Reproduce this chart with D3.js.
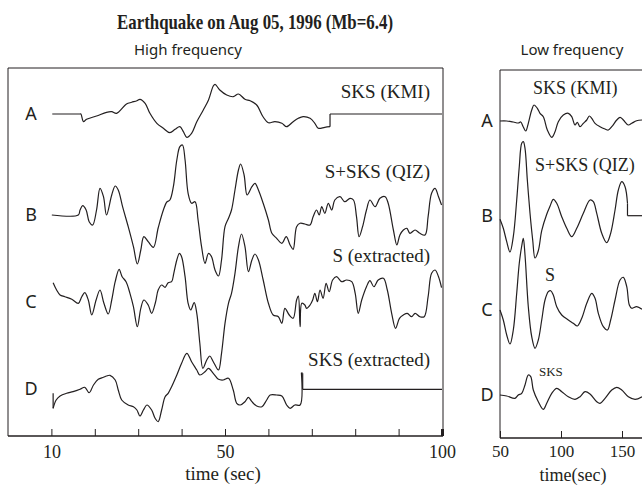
<!DOCTYPE html>
<html>
<head>
<meta charset="utf-8">
<title>Earthquake on Aug 05, 1996</title>
<script src="https://d3js.org/d3.v7.min.js"></script>
<style>
  body { margin: 0; background: #fff; }
  .serif { font-family: "Liberation Serif", "Times New Roman", serif; fill: #231f20; }
  .sans { font-family: "Noto Sans", "Open Sans", sans-serif; fill: #231f20; }
  .trace { fill: none; stroke: #231f20; stroke-width: 1.2; stroke-linejoin: round; }
  .frame { stroke: #231f20; stroke-width: 1; fill: none; }
</style>
</head>
<body>
<svg width="642" height="486"></svg>
<script>
// [time (s), amplitude] pairs
const hiA = [[10.2,0],[16.6,0],[16.8,0],[17.4,-7.7],[18.1,-5.3],[20.4,-2],[22.7,1.7],[23.9,2.3],[25.0,0.7],[27.3,10],[28.5,11.7],[29.7,13.3],[30.4,14.7],[31.6,10.7],[32.7,0.7],[34.3,-9.3],[35.8,-14.3],[37.3,-18.7],[38.5,-15.3],[39.6,-12.7],[40.4,-17.7],[41.2,-23.3],[42.3,-19.3],[43.5,-7.7],[45.0,4],[46.2,14],[47.3,28],[47.7,29.7],[48.8,24],[50.4,19],[51.9,17.3],[53.1,20],[54.6,14.7],[55.8,13.3],[57.3,9],[58.8,-3],[60.0,-8.7],[61.5,-7.7],[63.1,-9.3],[64.2,-12.7],[65.7,-7.7],[66.9,-4.3],[68.0,-2.7],[69.6,-4.3],[70.7,-9.3],[71.5,-14.3],[73.0,-13.3],[74.2,-12.7],[74.2,0],[100,0]];
const hiB = [[10.1,0],[16.2,0],[16.6,5],[17.2,9.3],[18.0,5],[18.7,-6.7],[19.5,-10],[20.4,5],[21.2,26.7],[22.0,18.3],[22.7,0],[23.9,20],[24.7,29],[25.4,25],[26.4,8.3],[27.7,-11.7],[28.9,-31.7],[29.8,-49],[30.6,-35],[31.3,-21.7],[32.3,-26.7],[33.5,-32.3],[34.6,-13],[35.8,5],[36.6,13],[37.3,15],[38.1,28.3],[38.9,55],[39.6,68.3],[40.2,70],[40.8,55],[41.5,21.7],[42.3,11.7],[43.1,13.3],[43.8,-5],[44.6,-31.7],[45.4,-48.3],[46.2,-38.3],[46.9,-41.7],[47.7,-55],[48.5,-61],[49.2,-45],[50.0,-11.7],[50.8,-3.3],[51.5,5],[52.3,25],[53.1,45],[53.6,51],[54.4,40],[55.1,20],[56.2,28.3],[56.9,31.7],[57.7,25],[58.8,11.7],[60.0,-5],[60.8,-18.3],[61.9,-23.3],[63.1,-28.3],[64.1,-21.7],[65.0,-30],[65.7,-34.3],[66.5,-11.7],[67.3,-8.3],[68.4,-9],[69.6,-10],[70.3,-1.7],[71.1,5],[71.7,0],[72.3,8.3],[73.0,1.7],[73.8,11.7],[74.6,5],[75.3,15],[76.5,18.3],[77.6,13.3],[78.8,16.7],[79.6,15],[80.3,-1.7],[80.9,-21.7],[81.7,-11.7],[82.6,5],[83.4,15],[84.6,8.3],[85.7,16.7],[86.9,18.3],[87.6,11.7],[88.8,-15],[89.6,-30],[90.3,-20],[91.1,-15],[91.9,-13.3],[92.6,-18.3],[93.8,-15],[94.9,-18.3],[96.1,-20],[96.8,-1.7],[97.6,21.7],[98.4,26.7],[99.2,18.3],[99.9,10]];
const hiC = [[10.4,19.3],[11.2,12],[12.0,7],[13.1,5.3],[14.7,2.7],[16.2,-1.3],[17.0,5.3],[17.7,9.3],[18.5,2],[19.3,-13],[20.3,2],[21.2,12],[22.1,-1.3],[23.1,-12],[23.9,2],[24.7,20.3],[25.6,32.7],[26.3,25.3],[27.2,20.3],[28.1,8.7],[28.9,-4.7],[29.8,-24.7],[30.6,-6.3],[31.3,2],[32.3,-3],[33.1,-11.3],[34.0,0],[34.6,12],[35.4,17],[36.2,14.7],[36.9,19.3],[37.7,20.3],[38.2,28.7],[38.9,42],[39.5,48.7],[40.0,45.3],[40.8,25.3],[41.5,-1.3],[42.1,-8],[42.9,-0.7],[43.5,-11.3],[44.2,-41.3],[44.9,-66.3],[45.8,-58],[46.5,-54],[47.3,-59.7],[48.5,-68],[49.2,-51.3],[50.0,-21.3],[50.8,-1.3],[51.5,8.7],[52.3,28.7],[53.1,55.3],[53.8,68],[54.6,55.3],[55.4,30.3],[56.2,42],[56.9,48],[57.7,42],[58.8,22],[60.0,-1.3],[61.1,-13],[62.3,-14.7],[63.1,-21.3],[63.8,-6.3],[64.8,-13],[65.7,-16.3],[66.5,2],[66.9,6],[67.3,-24.7],[67.7,-1.3],[68.4,-3],[68.8,-6.3],[69.6,-3],[70.2,2],[70.7,8.7],[71.3,0.3],[71.9,12],[72.6,3.7],[73.3,18.7],[74.0,10.3],[74.8,22],[75.7,25.3],[76.9,20.3],[78.0,22],[79.2,20.3],[80.0,8.7],[80.7,-11.3],[81.5,2],[82.6,15.3],[83.4,21.3],[84.3,15.3],[85.3,22],[86.5,23.7],[87.4,12],[88.4,-11.3],[89.3,-26.3],[90.2,-16.3],[91.1,-13],[92.0,-11.3],[93.0,-14.7],[93.8,-11.3],[94.9,-14.7],[95.9,-14.7],[96.8,5.3],[97.6,28.7],[98.4,32],[99.2,25.3],[99.9,14.3]];
const hiD = [[10.4,-4.3],[10.4,-19.3],[11.1,-11],[12.0,-7],[13.5,-4.3],[15.0,-2.7],[16.6,-0.3],[17.7,1.7],[18.7,-3.7],[19.7,4],[20.8,9.7],[22.0,11.7],[22.7,13],[23.5,13.7],[24.7,9],[25.4,-1],[26.2,-11],[27.7,-16],[28.9,-17.7],[29.7,-21],[30.4,-27],[31.2,-21],[32.0,-16],[33.1,-21],[33.9,-29.3],[34.6,-32.7],[35.4,-21],[36.2,-7.7],[36.9,-4.3],[37.7,2.3],[38.9,14],[40.0,25.7],[41.2,35.7],[42.3,27.3],[43.5,19],[44.2,14],[45.4,17.3],[46.2,20.7],[47.3,15.7],[48.5,9.7],[49.6,9],[50.8,10.7],[51.9,-1],[52.7,-14.3],[53.5,-16],[54.6,-12.7],[55.4,-8.3],[56.2,-12.7],[57.3,-17],[58.5,-17.7],[59.6,-11],[60.4,-6],[61.9,-6],[63.1,-7],[64.2,-16],[65.0,-19.3],[66.1,-16],[67.3,-16],[67.6,16.3],[67.6,16.3],[67.9,15.7],[67.9,-0.3],[100,-0.3]];

const loA = [[50,0],[55.5,0],[60.9,-1],[65.0,-2],[67.0,-1],[69.1,-6],[71.1,-10],[73.2,-2.3],[76.0,11],[77.9,16],[80.6,12.7],[82.8,7.7],[85.5,4.3],[88.8,-9],[92.4,-16.3],[95.1,-10.7],[97.8,-0.7],[101.9,6],[106.0,7.7],[108.8,4.3],[111.5,-4],[113.4,-1.3],[115.6,-5.7],[118.3,-2.3],[121.1,1],[123.2,5],[125.2,2.7],[127.9,-2.3],[132.0,-5.7],[136.1,-8],[138.8,-9],[141.6,-5.7],[145.7,1],[148.4,3.7],[151.1,1],[155.2,-4],[158.0,-2.3],[162.0,0.3],[166.4,1]];
const loB = [[50,-3.3],[52.7,-12.3],[55.5,-25.7],[58.2,-36],[60.9,-20.7],[63.7,16],[65.8,49.3],[67.8,72.7],[69.1,74.3],[70.5,67.7],[72.4,36],[74.6,2.7],[76.8,-24],[78.7,-42],[81.4,-34.7],[84.2,-14.7],[88.3,1.7],[91.0,9.7],[93.7,16.7],[96.5,12.7],[100.6,-0.7],[104.7,-12.3],[108.8,-20.7],[112.9,-12.3],[118.3,2.7],[123.8,16],[126.5,14.3],[129.3,2.7],[133.4,-17.3],[137.5,-26.7],[140.7,-17.3],[144.3,6],[147.0,26],[149.8,34.3],[152.5,29.3],[154.5,12.7],[154.5,0.3],[166.4,0.3]];
const loC = [[50,0],[52.7,-10],[55.5,-25],[58.2,-34],[60.9,-20],[63.7,16.7],[65.8,46.7],[67.8,64],[69.1,71.7],[70.5,55],[73.2,3.3],[76.0,-26.7],[78.7,-38.3],[81.4,-30],[84.2,-10],[86.9,10],[89.6,18.3],[91.6,19.3],[93.7,15],[96.5,3.3],[100.6,-5],[106.0,-10],[110.1,-13.3],[113.4,-16],[117.0,-8.3],[121.1,6.7],[125.2,16.7],[127.9,11.7],[130.6,-3.3],[134.7,-16.7],[138.0,-20],[140.7,-10],[144.3,10],[148.4,30],[151.1,32.7],[153.9,23.3],[156.0,5],[158.0,1.7],[162.0,3.3],[166.4,0.7]];
const loD = [[50,0],[55.5,-1],[62.3,-3.3],[65.0,0],[67.8,1.7],[70.5,10],[73.2,20],[75.2,18.3],[77.3,5],[81.4,-6.7],[85.5,-14.3],[88.3,-8.3],[92.4,1.7],[96.5,6.7],[100.6,3.3],[106.0,-1.7],[111.5,-4.3],[115.6,-1.7],[119.7,3.3],[123.8,1],[129.3,-6.7],[132.0,-8.3],[136.1,-3.3],[141.6,5],[145.7,7.7],[149.8,5],[155.2,-1.7],[160.7,-4.3],[166.4,-1.7]];

const traceLetters = ["A", "B", "C", "D"];
const hiNames = ["SKS (KMI)", "S+SKS (QIZ)", "S (extracted)", "SKS (extracted)"];
const loNames = ["SKS (KMI)", "S+SKS (QIZ)", "S", "SKS"];
const hiTicks = [10, 20, 30, 40, 50, 60, 70, 80, 90, 100];
const hiTickLabels = [10, 50, 100];
const loTicks = [50, 100, 150];

const svg = d3.select("svg");

svg.append("text").attr("class", "serif")
   .attr("x", 255).attr("y", 29)
   .attr("text-anchor", "middle")
   .attr("textLength", 276).attr("lengthAdjust", "spacingAndGlyphs")
   .style("font-size", "22px").style("font-weight", "bold")
   .text("Earthquake on Aug 05, 1996 (Mb=6.4)");

// break a trace where time repeats (vertical steps), so the smoothing
// doesn't bulge around them
function pieces(s) {
    const out = [];
    let cur = [s[0]];
    for (let i = 1; i < s.length; i++) {
        if (s[i][0] === s[i - 1][0]) {
            out.push(cur);
            out.push([s[i - 1], s[i]]);
            cur = [s[i]];
        } else {
            cur.push(s[i]);
        }
    }
    out.push(cur);
    return out.filter(p => p.length > 1);
}

function panel(cfg) {
    const g = svg.append("g");
    const x = d3.scaleLinear().domain(cfg.domain).range(cfg.range);

    g.append("text").attr("class", "sans")
     .attr("x", cfg.titleX).attr("y", 55)
     .attr("text-anchor", "middle").style("font-size", "15px")
     .text(cfg.title);

    const x0 = cfg.range[0], x1 = cfg.frameRight;
    g.append("path").attr("class", "frame")
     .attr("d", cfg.closed
        ? `M${x0},${cfg.bottom}V${cfg.top}H${x1}V${cfg.bottom}`
        : `M${x0},${cfg.bottom}V${cfg.top}H${x1}`);

    const axis = d3.axisBottom(x)
        .tickValues(cfg.ticks)
        .tickSizeInner(-7).tickSizeOuter(0).tickPadding(cfg.tickPad)
        .tickFormat(d => cfg.labels.includes(d) ? d : "");
    const ax = g.append("g").attr("transform", `translate(0,${cfg.bottom})`).call(axis);
    ax.attr("font-family", null).attr("font-size", null);
    ax.select(".domain").attr("d", `M${x0},0H${x1}`).attr("stroke", "#231f20").attr("stroke-width", 1.5);
    ax.selectAll(".tick line").attr("stroke", "#231f20").attr("stroke-width", d => d === 100 && cfg.closed ? 3 : 1);
    ax.selectAll(".tick text").attr("class", "serif").style("font-size", cfg.tickSize + "px").attr("fill", "#231f20");

    g.append("text").attr("class", "serif")
     .attr("x", cfg.axisTitleX).attr("y", cfg.axisTitleY)
     .attr("text-anchor", "middle").style("font-size", cfg.axisTitleSize + "px")
     .text(cfg.axisTitle);

    const amp = d3.scaleLinear().domain([-100, 100]).range([100, -100]);
    const line = d3.line()
        .x(d => x(d[0]))
        .y(d => amp(d[1]))
        .curve(d3.curveCatmullRom.alpha(0.5));

    cfg.series.forEach((s, i) => {
        const tg = g.append("g").attr("transform", `translate(0,${cfg.baselines[i]})`);
        tg.selectAll("path").data(pieces(s)).join("path")
          .attr("class", "trace").attr("d", line);
        g.append("text").attr("class", "sans")
         .attr("x", cfg.letterX).attr("y", cfg.baselines[i] + 6)
         .attr("text-anchor", "middle").style("font-size", "18px")
         .text(traceLetters[i]);
        g.append("text").attr("class", "serif")
         .attr("x", cfg.nameX[i]).attr("y", cfg.nameY[i])
         .attr("text-anchor", cfg.nameAnchor)
         .style("font-size", cfg.nameSize[i] + "px")
         .text(cfg.names[i]);
    });
}

panel({
    title: "High frequency", titleX: 188,
    domain: [0, 100], range: [8, 442], frameRight: 443, closed: true,
    top: 68, bottom: 436,
    ticks: hiTicks, labels: hiTickLabels, tickPad: 9, tickSize: 18,
    axisTitle: "time (sec)", axisTitleX: 223, axisTitleY: 480, axisTitleSize: 19,
    series: [hiA, hiB, hiC, hiD],
    baselines: [114, 215, 302, 389],
    letterX: 31,
    names: hiNames, nameAnchor: "end",
    nameX: [430, 430, 430, 430], nameY: [98, 178, 262, 366],
    nameSize: [19, 19, 19, 19]
});

panel({
    title: "Low frequency", titleX: 572,
    domain: [50, 100], range: [500, 561], frameRight: 642, closed: false,
    top: 70, bottom: 438,
    ticks: loTicks, labels: loTicks, tickPad: 7, tickSize: 17,
    axisTitle: "time(sec)", axisTitleX: 573, axisTitleY: 481, axisTitleSize: 18,
    series: [loA, loB, loC, loD],
    baselines: [121, 216, 310, 395],
    letterX: 487,
    names: loNames, nameAnchor: "start",
    nameX: [533, 535, 545, 539], nameY: [94, 171, 281, 376],
    nameSize: [18, 18, 18, 13]
});
</script>
</body>
</html>
